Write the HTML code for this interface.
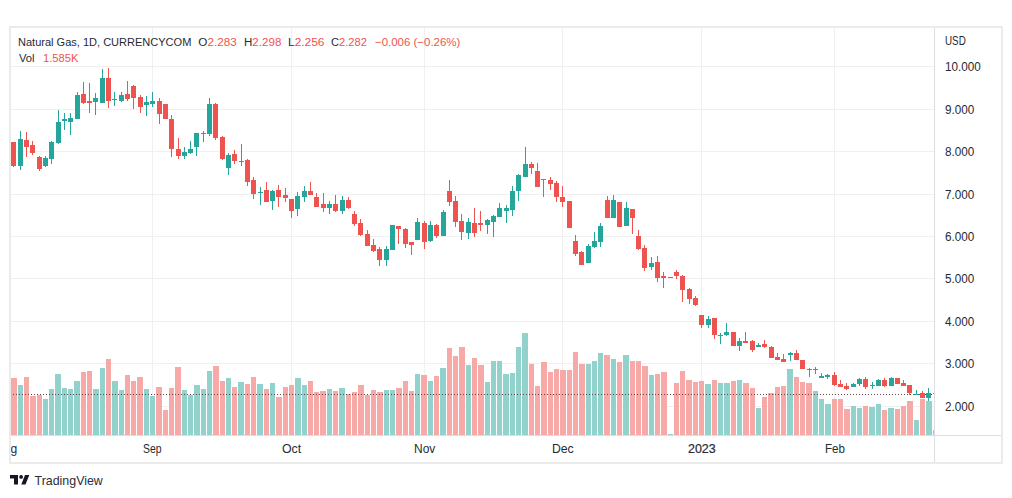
<!DOCTYPE html>
<html><head><meta charset="utf-8"><style>
html,body{margin:0;padding:0;background:#fff;}
body{width:1012px;height:498px;overflow:hidden;position:relative;font-family:"Liberation Sans",sans-serif;color:#262a33;}
.t{position:absolute;white-space:nowrap;line-height:1;transform-origin:0 0;}
svg{position:absolute;left:0;top:0;}
</style></head><body>
<svg width="1012" height="498" viewBox="0 0 1012 498" shape-rendering="crispEdges">
<rect x="9" y="26" width="994" height="438" fill="#ebebeb"/>
<rect x="11" y="28" width="990" height="434" fill="#ffffff"/>
<defs><clipPath id="pc"><rect x="11" y="28" width="923" height="407"/></clipPath></defs>
<g clip-path="url(#pc)">
<rect x="152" y="28" width="1" height="407" fill="#f0f0f3"/>
<rect x="291" y="28" width="1" height="407" fill="#f0f0f3"/>
<rect x="424" y="28" width="1" height="407" fill="#f0f0f3"/>
<rect x="562" y="28" width="1" height="407" fill="#f0f0f3"/>
<rect x="701" y="28" width="1" height="407" fill="#f0f0f3"/>
<rect x="834" y="28" width="1" height="407" fill="#f0f0f3"/>
<rect x="11" y="66" width="923" height="1" fill="#f0f0f3"/>
<rect x="11" y="109" width="923" height="1" fill="#f0f0f3"/>
<rect x="11" y="151" width="923" height="1" fill="#f0f0f3"/>
<rect x="11" y="194" width="923" height="1" fill="#f0f0f3"/>
<rect x="11" y="236" width="923" height="1" fill="#f0f0f3"/>
<rect x="11" y="278" width="923" height="1" fill="#f0f0f3"/>
<rect x="11" y="321" width="923" height="1" fill="#f0f0f3"/>
<rect x="11" y="363" width="923" height="1" fill="#f0f0f3"/>
<rect x="11" y="406" width="923" height="1" fill="#f0f0f3"/>
<rect x="11" y="378" width="6" height="57" fill="#f7a9a7"/>
<rect x="18" y="385" width="5" height="50" fill="#92d2cc"/>
<rect x="24" y="377" width="5" height="58" fill="#f7a9a7"/>
<rect x="30" y="396" width="6" height="39" fill="#f7a9a7"/>
<rect x="37" y="395" width="5" height="40" fill="#f7a9a7"/>
<rect x="43" y="399" width="5" height="36" fill="#92d2cc"/>
<rect x="49" y="389" width="5" height="46" fill="#92d2cc"/>
<rect x="55" y="374" width="6" height="61" fill="#92d2cc"/>
<rect x="62" y="388" width="5" height="47" fill="#92d2cc"/>
<rect x="68" y="389" width="5" height="46" fill="#92d2cc"/>
<rect x="74" y="381" width="6" height="54" fill="#92d2cc"/>
<rect x="81" y="372" width="5" height="63" fill="#f7a9a7"/>
<rect x="87" y="371" width="5" height="64" fill="#f7a9a7"/>
<rect x="93" y="389" width="6" height="46" fill="#92d2cc"/>
<rect x="100" y="368" width="5" height="67" fill="#92d2cc"/>
<rect x="106" y="359" width="5" height="76" fill="#f7a9a7"/>
<rect x="112" y="381" width="6" height="54" fill="#92d2cc"/>
<rect x="119" y="390" width="5" height="45" fill="#92d2cc"/>
<rect x="125" y="375" width="5" height="60" fill="#f7a9a7"/>
<rect x="131" y="381" width="5" height="54" fill="#f7a9a7"/>
<rect x="137" y="377" width="6" height="58" fill="#f7a9a7"/>
<rect x="144" y="389" width="5" height="46" fill="#92d2cc"/>
<rect x="150" y="396" width="5" height="39" fill="#92d2cc"/>
<rect x="156" y="387" width="6" height="48" fill="#f7a9a7"/>
<rect x="163" y="410" width="5" height="25" fill="#f7a9a7"/>
<rect x="169" y="388" width="5" height="47" fill="#f7a9a7"/>
<rect x="175" y="367" width="6" height="68" fill="#f7a9a7"/>
<rect x="182" y="390" width="5" height="45" fill="#92d2cc"/>
<rect x="188" y="395" width="5" height="40" fill="#92d2cc"/>
<rect x="194" y="385" width="6" height="50" fill="#92d2cc"/>
<rect x="201" y="389" width="5" height="46" fill="#92d2cc"/>
<rect x="207" y="371" width="5" height="64" fill="#92d2cc"/>
<rect x="213" y="366" width="6" height="69" fill="#f7a9a7"/>
<rect x="220" y="381" width="5" height="54" fill="#f7a9a7"/>
<rect x="226" y="378" width="5" height="57" fill="#92d2cc"/>
<rect x="232" y="387" width="5" height="48" fill="#f7a9a7"/>
<rect x="238" y="382" width="6" height="53" fill="#92d2cc"/>
<rect x="245" y="384" width="5" height="51" fill="#f7a9a7"/>
<rect x="251" y="377" width="5" height="58" fill="#f7a9a7"/>
<rect x="257" y="384" width="6" height="51" fill="#92d2cc"/>
<rect x="264" y="389" width="5" height="46" fill="#f7a9a7"/>
<rect x="270" y="383" width="5" height="52" fill="#92d2cc"/>
<rect x="276" y="397" width="6" height="38" fill="#f7a9a7"/>
<rect x="283" y="387" width="5" height="48" fill="#f7a9a7"/>
<rect x="289" y="385" width="5" height="50" fill="#f7a9a7"/>
<rect x="295" y="378" width="6" height="57" fill="#92d2cc"/>
<rect x="302" y="385" width="5" height="50" fill="#92d2cc"/>
<rect x="308" y="381" width="5" height="54" fill="#f7a9a7"/>
<rect x="314" y="392" width="5" height="43" fill="#f7a9a7"/>
<rect x="320" y="391" width="6" height="44" fill="#f7a9a7"/>
<rect x="327" y="389" width="5" height="46" fill="#92d2cc"/>
<rect x="333" y="391" width="5" height="44" fill="#f7a9a7"/>
<rect x="339" y="388" width="6" height="47" fill="#92d2cc"/>
<rect x="346" y="394" width="5" height="41" fill="#f7a9a7"/>
<rect x="352" y="392" width="5" height="43" fill="#f7a9a7"/>
<rect x="358" y="385" width="6" height="50" fill="#f7a9a7"/>
<rect x="365" y="395" width="5" height="40" fill="#f7a9a7"/>
<rect x="371" y="390" width="5" height="45" fill="#f7a9a7"/>
<rect x="377" y="392" width="6" height="43" fill="#f7a9a7"/>
<rect x="384" y="390" width="5" height="45" fill="#92d2cc"/>
<rect x="390" y="390" width="5" height="45" fill="#92d2cc"/>
<rect x="396" y="388" width="6" height="47" fill="#f7a9a7"/>
<rect x="403" y="381" width="5" height="54" fill="#f7a9a7"/>
<rect x="409" y="391" width="5" height="44" fill="#f7a9a7"/>
<rect x="415" y="374" width="5" height="61" fill="#92d2cc"/>
<rect x="421" y="375" width="6" height="60" fill="#f7a9a7"/>
<rect x="428" y="381" width="5" height="54" fill="#92d2cc"/>
<rect x="434" y="376" width="5" height="59" fill="#f7a9a7"/>
<rect x="440" y="368" width="6" height="67" fill="#92d2cc"/>
<rect x="447" y="348" width="5" height="87" fill="#f7a9a7"/>
<rect x="453" y="356" width="5" height="79" fill="#f7a9a7"/>
<rect x="459" y="347" width="6" height="88" fill="#f7a9a7"/>
<rect x="466" y="365" width="5" height="70" fill="#92d2cc"/>
<rect x="472" y="358" width="5" height="77" fill="#f7a9a7"/>
<rect x="478" y="365" width="6" height="70" fill="#f7a9a7"/>
<rect x="485" y="382" width="5" height="53" fill="#92d2cc"/>
<rect x="491" y="361" width="5" height="74" fill="#92d2cc"/>
<rect x="497" y="361" width="5" height="74" fill="#92d2cc"/>
<rect x="503" y="374" width="6" height="61" fill="#92d2cc"/>
<rect x="510" y="373" width="5" height="62" fill="#92d2cc"/>
<rect x="516" y="347" width="5" height="88" fill="#92d2cc"/>
<rect x="522" y="333" width="6" height="102" fill="#92d2cc"/>
<rect x="529" y="364" width="5" height="71" fill="#f7a9a7"/>
<rect x="535" y="386" width="5" height="49" fill="#f7a9a7"/>
<rect x="541" y="362" width="6" height="73" fill="#f7a9a7"/>
<rect x="548" y="372" width="5" height="63" fill="#f7a9a7"/>
<rect x="554" y="369" width="5" height="66" fill="#f7a9a7"/>
<rect x="560" y="370" width="6" height="65" fill="#f7a9a7"/>
<rect x="567" y="370" width="5" height="65" fill="#f7a9a7"/>
<rect x="573" y="352" width="5" height="83" fill="#f7a9a7"/>
<rect x="579" y="364" width="6" height="71" fill="#f7a9a7"/>
<rect x="586" y="364" width="5" height="71" fill="#92d2cc"/>
<rect x="592" y="361" width="5" height="74" fill="#92d2cc"/>
<rect x="598" y="353" width="5" height="82" fill="#92d2cc"/>
<rect x="604" y="355" width="6" height="80" fill="#f7a9a7"/>
<rect x="611" y="359" width="5" height="76" fill="#92d2cc"/>
<rect x="617" y="362" width="5" height="73" fill="#f7a9a7"/>
<rect x="623" y="355" width="6" height="80" fill="#92d2cc"/>
<rect x="630" y="361" width="5" height="74" fill="#f7a9a7"/>
<rect x="636" y="361" width="5" height="74" fill="#f7a9a7"/>
<rect x="642" y="366" width="6" height="69" fill="#f7a9a7"/>
<rect x="649" y="375" width="5" height="60" fill="#92d2cc"/>
<rect x="655" y="374" width="5" height="61" fill="#f7a9a7"/>
<rect x="661" y="372" width="6" height="63" fill="#f7a9a7"/>
<rect x="668" y="434" width="5" height="1" fill="#92d2cc"/>
<rect x="674" y="383" width="5" height="52" fill="#f7a9a7"/>
<rect x="680" y="371" width="5" height="64" fill="#f7a9a7"/>
<rect x="686" y="380" width="6" height="55" fill="#f7a9a7"/>
<rect x="693" y="382" width="5" height="53" fill="#f7a9a7"/>
<rect x="699" y="381" width="5" height="54" fill="#f7a9a7"/>
<rect x="705" y="384" width="6" height="51" fill="#92d2cc"/>
<rect x="712" y="380" width="5" height="55" fill="#f7a9a7"/>
<rect x="718" y="383" width="5" height="52" fill="#92d2cc"/>
<rect x="724" y="383" width="6" height="52" fill="#92d2cc"/>
<rect x="731" y="381" width="5" height="54" fill="#f7a9a7"/>
<rect x="737" y="380" width="5" height="55" fill="#92d2cc"/>
<rect x="743" y="383" width="6" height="52" fill="#f7a9a7"/>
<rect x="750" y="388" width="5" height="47" fill="#f7a9a7"/>
<rect x="756" y="408" width="5" height="27" fill="#92d2cc"/>
<rect x="762" y="397" width="5" height="38" fill="#f7a9a7"/>
<rect x="768" y="393" width="6" height="42" fill="#f7a9a7"/>
<rect x="775" y="387" width="5" height="48" fill="#f7a9a7"/>
<rect x="781" y="386" width="5" height="49" fill="#f7a9a7"/>
<rect x="787" y="369" width="6" height="66" fill="#92d2cc"/>
<rect x="794" y="377" width="5" height="58" fill="#f7a9a7"/>
<rect x="800" y="382" width="5" height="53" fill="#f7a9a7"/>
<rect x="806" y="383" width="6" height="52" fill="#f7a9a7"/>
<rect x="813" y="391" width="5" height="44" fill="#92d2cc"/>
<rect x="819" y="399" width="5" height="36" fill="#92d2cc"/>
<rect x="825" y="404" width="6" height="31" fill="#92d2cc"/>
<rect x="832" y="399" width="5" height="36" fill="#f7a9a7"/>
<rect x="838" y="399" width="5" height="36" fill="#f7a9a7"/>
<rect x="844" y="409" width="6" height="26" fill="#f7a9a7"/>
<rect x="851" y="406" width="5" height="29" fill="#92d2cc"/>
<rect x="857" y="408" width="5" height="27" fill="#92d2cc"/>
<rect x="863" y="406" width="5" height="29" fill="#f7a9a7"/>
<rect x="869" y="407" width="6" height="28" fill="#92d2cc"/>
<rect x="876" y="404" width="5" height="31" fill="#92d2cc"/>
<rect x="882" y="410" width="5" height="25" fill="#f7a9a7"/>
<rect x="888" y="408" width="6" height="27" fill="#92d2cc"/>
<rect x="895" y="409" width="5" height="26" fill="#f7a9a7"/>
<rect x="901" y="406" width="5" height="29" fill="#f7a9a7"/>
<rect x="907" y="401" width="6" height="34" fill="#f7a9a7"/>
<rect x="914" y="420" width="5" height="15" fill="#92d2cc"/>
<rect x="920" y="399" width="5" height="36" fill="#f7a9a7"/>
<rect x="926" y="401" width="6" height="34" fill="#92d2cc"/>
<rect x="933" y="430" width="5" height="5" fill="#f7a9a7"/>
<line x1="11" y1="394.5" x2="934" y2="394.5" stroke="#6e4244" stroke-width="1" stroke-dasharray="1 2" stroke-dashoffset="-2"/>
<rect x="13" y="142" width="1" height="25" fill="#ef5350"/>
<rect x="11" y="142" width="5" height="24" fill="#ef5350"/>
<rect x="20" y="131" width="1" height="39" fill="#26a69a"/>
<rect x="18" y="139" width="5" height="27" fill="#26a69a"/>
<rect x="26" y="132" width="1" height="25" fill="#ef5350"/>
<rect x="24" y="140" width="5" height="7" fill="#ef5350"/>
<rect x="32" y="141" width="1" height="14" fill="#ef5350"/>
<rect x="30" y="145" width="5" height="8" fill="#ef5350"/>
<rect x="39" y="156" width="1" height="15" fill="#ef5350"/>
<rect x="37" y="157" width="5" height="12" fill="#ef5350"/>
<rect x="45" y="156" width="1" height="11" fill="#26a69a"/>
<rect x="43" y="158" width="5" height="8" fill="#26a69a"/>
<rect x="51" y="141" width="1" height="23" fill="#26a69a"/>
<rect x="49" y="142" width="5" height="17" fill="#26a69a"/>
<rect x="58" y="110" width="1" height="34" fill="#26a69a"/>
<rect x="56" y="122" width="5" height="21" fill="#26a69a"/>
<rect x="64" y="113" width="1" height="17" fill="#26a69a"/>
<rect x="62" y="119" width="5" height="2" fill="#26a69a"/>
<rect x="70" y="113" width="1" height="22" fill="#26a69a"/>
<rect x="68" y="118" width="5" height="4" fill="#26a69a"/>
<rect x="77" y="92" width="1" height="27" fill="#26a69a"/>
<rect x="75" y="95" width="5" height="24" fill="#26a69a"/>
<rect x="83" y="82" width="1" height="22" fill="#ef5350"/>
<rect x="81" y="94" width="5" height="9" fill="#ef5350"/>
<rect x="89" y="83" width="1" height="30" fill="#ef5350"/>
<rect x="87" y="101" width="5" height="2" fill="#ef5350"/>
<rect x="95" y="93" width="1" height="22" fill="#26a69a"/>
<rect x="93" y="98" width="5" height="4" fill="#26a69a"/>
<rect x="102" y="69" width="1" height="34" fill="#26a69a"/>
<rect x="100" y="78" width="5" height="25" fill="#26a69a"/>
<rect x="108" y="68" width="1" height="40" fill="#ef5350"/>
<rect x="106" y="78" width="5" height="23" fill="#ef5350"/>
<rect x="114" y="92" width="1" height="14" fill="#26a69a"/>
<rect x="112" y="99" width="5" height="1" fill="#26a69a"/>
<rect x="121" y="92" width="1" height="10" fill="#26a69a"/>
<rect x="119" y="95" width="5" height="6" fill="#26a69a"/>
<rect x="127" y="81" width="1" height="20" fill="#ef5350"/>
<rect x="125" y="94" width="5" height="5" fill="#ef5350"/>
<rect x="133" y="85" width="1" height="24" fill="#ef5350"/>
<rect x="131" y="86" width="5" height="12" fill="#ef5350"/>
<rect x="140" y="95" width="1" height="18" fill="#ef5350"/>
<rect x="138" y="97" width="5" height="10" fill="#ef5350"/>
<rect x="146" y="96" width="1" height="20" fill="#26a69a"/>
<rect x="144" y="102" width="5" height="3" fill="#26a69a"/>
<rect x="152" y="92" width="1" height="15" fill="#26a69a"/>
<rect x="150" y="101" width="5" height="3" fill="#26a69a"/>
<rect x="159" y="98" width="1" height="26" fill="#ef5350"/>
<rect x="157" y="101" width="5" height="13" fill="#ef5350"/>
<rect x="165" y="104" width="1" height="15" fill="#ef5350"/>
<rect x="163" y="104" width="5" height="15" fill="#ef5350"/>
<rect x="171" y="115" width="1" height="42" fill="#ef5350"/>
<rect x="169" y="119" width="5" height="30" fill="#ef5350"/>
<rect x="178" y="138" width="1" height="21" fill="#ef5350"/>
<rect x="176" y="149" width="5" height="7" fill="#ef5350"/>
<rect x="184" y="147" width="1" height="12" fill="#26a69a"/>
<rect x="182" y="152" width="5" height="4" fill="#26a69a"/>
<rect x="190" y="141" width="1" height="13" fill="#26a69a"/>
<rect x="188" y="149" width="5" height="4" fill="#26a69a"/>
<rect x="196" y="133" width="1" height="23" fill="#26a69a"/>
<rect x="194" y="133" width="5" height="14" fill="#26a69a"/>
<rect x="203" y="131" width="1" height="11" fill="#26a69a"/>
<rect x="201" y="133" width="5" height="1" fill="#26a69a"/>
<rect x="209" y="98" width="1" height="38" fill="#26a69a"/>
<rect x="207" y="104" width="5" height="30" fill="#26a69a"/>
<rect x="215" y="103" width="1" height="37" fill="#ef5350"/>
<rect x="213" y="104" width="5" height="34" fill="#ef5350"/>
<rect x="222" y="136" width="1" height="24" fill="#ef5350"/>
<rect x="220" y="137" width="5" height="22" fill="#ef5350"/>
<rect x="228" y="153" width="1" height="22" fill="#26a69a"/>
<rect x="226" y="155" width="5" height="13" fill="#26a69a"/>
<rect x="234" y="150" width="1" height="14" fill="#ef5350"/>
<rect x="232" y="154" width="5" height="7" fill="#ef5350"/>
<rect x="241" y="144" width="1" height="22" fill="#26a69a"/>
<rect x="239" y="161" width="5" height="1" fill="#26a69a"/>
<rect x="247" y="159" width="1" height="27" fill="#ef5350"/>
<rect x="245" y="160" width="5" height="22" fill="#ef5350"/>
<rect x="253" y="177" width="1" height="22" fill="#ef5350"/>
<rect x="251" y="180" width="5" height="14" fill="#ef5350"/>
<rect x="260" y="187" width="1" height="18" fill="#26a69a"/>
<rect x="258" y="192" width="5" height="1" fill="#26a69a"/>
<rect x="266" y="182" width="1" height="20" fill="#ef5350"/>
<rect x="264" y="190" width="5" height="12" fill="#ef5350"/>
<rect x="272" y="190" width="1" height="20" fill="#26a69a"/>
<rect x="270" y="191" width="5" height="10" fill="#26a69a"/>
<rect x="278" y="185" width="1" height="22" fill="#ef5350"/>
<rect x="276" y="190" width="5" height="7" fill="#ef5350"/>
<rect x="285" y="188" width="1" height="14" fill="#ef5350"/>
<rect x="283" y="195" width="5" height="3" fill="#ef5350"/>
<rect x="291" y="199" width="1" height="19" fill="#ef5350"/>
<rect x="289" y="199" width="5" height="12" fill="#ef5350"/>
<rect x="297" y="192" width="1" height="24" fill="#26a69a"/>
<rect x="295" y="196" width="5" height="13" fill="#26a69a"/>
<rect x="304" y="186" width="1" height="16" fill="#26a69a"/>
<rect x="302" y="191" width="5" height="6" fill="#26a69a"/>
<rect x="310" y="182" width="1" height="13" fill="#ef5350"/>
<rect x="308" y="191" width="5" height="4" fill="#ef5350"/>
<rect x="316" y="193" width="1" height="14" fill="#ef5350"/>
<rect x="314" y="197" width="5" height="10" fill="#ef5350"/>
<rect x="323" y="193" width="1" height="19" fill="#ef5350"/>
<rect x="321" y="204" width="5" height="4" fill="#ef5350"/>
<rect x="329" y="201" width="1" height="13" fill="#26a69a"/>
<rect x="327" y="204" width="5" height="4" fill="#26a69a"/>
<rect x="335" y="195" width="1" height="17" fill="#ef5350"/>
<rect x="333" y="204" width="5" height="7" fill="#ef5350"/>
<rect x="342" y="196" width="1" height="18" fill="#26a69a"/>
<rect x="340" y="200" width="5" height="11" fill="#26a69a"/>
<rect x="348" y="197" width="1" height="12" fill="#ef5350"/>
<rect x="346" y="200" width="5" height="8" fill="#ef5350"/>
<rect x="354" y="211" width="1" height="15" fill="#ef5350"/>
<rect x="352" y="214" width="5" height="10" fill="#ef5350"/>
<rect x="360" y="219" width="1" height="17" fill="#ef5350"/>
<rect x="358" y="223" width="5" height="12" fill="#ef5350"/>
<rect x="367" y="230" width="1" height="16" fill="#ef5350"/>
<rect x="365" y="234" width="5" height="12" fill="#ef5350"/>
<rect x="373" y="239" width="1" height="13" fill="#ef5350"/>
<rect x="371" y="245" width="5" height="6" fill="#ef5350"/>
<rect x="379" y="247" width="1" height="19" fill="#ef5350"/>
<rect x="377" y="249" width="5" height="11" fill="#ef5350"/>
<rect x="386" y="246" width="1" height="20" fill="#26a69a"/>
<rect x="384" y="249" width="5" height="11" fill="#26a69a"/>
<rect x="392" y="225" width="1" height="25" fill="#26a69a"/>
<rect x="390" y="225" width="5" height="25" fill="#26a69a"/>
<rect x="398" y="226" width="1" height="18" fill="#ef5350"/>
<rect x="396" y="226" width="5" height="3" fill="#ef5350"/>
<rect x="405" y="228" width="1" height="20" fill="#ef5350"/>
<rect x="403" y="229" width="5" height="15" fill="#ef5350"/>
<rect x="411" y="242" width="1" height="13" fill="#ef5350"/>
<rect x="409" y="242" width="5" height="3" fill="#ef5350"/>
<rect x="417" y="218" width="1" height="22" fill="#26a69a"/>
<rect x="415" y="222" width="5" height="18" fill="#26a69a"/>
<rect x="424" y="221" width="1" height="28" fill="#ef5350"/>
<rect x="422" y="223" width="5" height="19" fill="#ef5350"/>
<rect x="430" y="221" width="1" height="21" fill="#26a69a"/>
<rect x="428" y="225" width="5" height="16" fill="#26a69a"/>
<rect x="436" y="224" width="1" height="14" fill="#ef5350"/>
<rect x="434" y="225" width="5" height="11" fill="#ef5350"/>
<rect x="443" y="210" width="1" height="26" fill="#26a69a"/>
<rect x="441" y="212" width="5" height="24" fill="#26a69a"/>
<rect x="449" y="180" width="1" height="26" fill="#ef5350"/>
<rect x="447" y="191" width="5" height="11" fill="#ef5350"/>
<rect x="455" y="196" width="1" height="31" fill="#ef5350"/>
<rect x="453" y="201" width="5" height="21" fill="#ef5350"/>
<rect x="461" y="214" width="1" height="26" fill="#ef5350"/>
<rect x="459" y="221" width="5" height="11" fill="#ef5350"/>
<rect x="468" y="218" width="1" height="21" fill="#26a69a"/>
<rect x="466" y="222" width="5" height="11" fill="#26a69a"/>
<rect x="474" y="208" width="1" height="29" fill="#ef5350"/>
<rect x="472" y="223" width="5" height="10" fill="#ef5350"/>
<rect x="480" y="211" width="1" height="20" fill="#ef5350"/>
<rect x="478" y="223" width="5" height="2" fill="#ef5350"/>
<rect x="487" y="219" width="1" height="15" fill="#26a69a"/>
<rect x="485" y="220" width="5" height="5" fill="#26a69a"/>
<rect x="493" y="215" width="1" height="22" fill="#26a69a"/>
<rect x="491" y="216" width="5" height="6" fill="#26a69a"/>
<rect x="499" y="203" width="1" height="14" fill="#26a69a"/>
<rect x="497" y="208" width="5" height="9" fill="#26a69a"/>
<rect x="506" y="205" width="1" height="18" fill="#26a69a"/>
<rect x="504" y="208" width="5" height="3" fill="#26a69a"/>
<rect x="512" y="186" width="1" height="30" fill="#26a69a"/>
<rect x="510" y="191" width="5" height="19" fill="#26a69a"/>
<rect x="518" y="174" width="1" height="27" fill="#26a69a"/>
<rect x="516" y="175" width="5" height="16" fill="#26a69a"/>
<rect x="525" y="147" width="1" height="30" fill="#26a69a"/>
<rect x="523" y="164" width="5" height="13" fill="#26a69a"/>
<rect x="531" y="162" width="1" height="12" fill="#ef5350"/>
<rect x="529" y="164" width="5" height="4" fill="#ef5350"/>
<rect x="537" y="163" width="1" height="24" fill="#ef5350"/>
<rect x="535" y="171" width="5" height="16" fill="#ef5350"/>
<rect x="543" y="179" width="1" height="18" fill="#ef5350"/>
<rect x="541" y="179" width="5" height="1" fill="#ef5350"/>
<rect x="550" y="177" width="1" height="13" fill="#ef5350"/>
<rect x="548" y="180" width="5" height="4" fill="#ef5350"/>
<rect x="556" y="181" width="1" height="21" fill="#ef5350"/>
<rect x="554" y="183" width="5" height="14" fill="#ef5350"/>
<rect x="562" y="186" width="1" height="21" fill="#ef5350"/>
<rect x="560" y="197" width="5" height="5" fill="#ef5350"/>
<rect x="569" y="201" width="1" height="27" fill="#ef5350"/>
<rect x="567" y="201" width="5" height="27" fill="#ef5350"/>
<rect x="575" y="235" width="1" height="21" fill="#ef5350"/>
<rect x="573" y="241" width="5" height="13" fill="#ef5350"/>
<rect x="581" y="251" width="1" height="14" fill="#ef5350"/>
<rect x="579" y="252" width="5" height="13" fill="#ef5350"/>
<rect x="588" y="244" width="1" height="19" fill="#26a69a"/>
<rect x="586" y="246" width="5" height="17" fill="#26a69a"/>
<rect x="594" y="232" width="1" height="16" fill="#26a69a"/>
<rect x="592" y="241" width="5" height="6" fill="#26a69a"/>
<rect x="600" y="223" width="1" height="24" fill="#26a69a"/>
<rect x="598" y="226" width="5" height="16" fill="#26a69a"/>
<rect x="607" y="196" width="1" height="22" fill="#ef5350"/>
<rect x="605" y="200" width="5" height="18" fill="#ef5350"/>
<rect x="613" y="195" width="1" height="23" fill="#26a69a"/>
<rect x="611" y="200" width="5" height="18" fill="#26a69a"/>
<rect x="619" y="202" width="1" height="25" fill="#ef5350"/>
<rect x="617" y="202" width="5" height="25" fill="#ef5350"/>
<rect x="626" y="202" width="1" height="24" fill="#26a69a"/>
<rect x="624" y="208" width="5" height="18" fill="#26a69a"/>
<rect x="632" y="209" width="1" height="25" fill="#ef5350"/>
<rect x="630" y="209" width="5" height="9" fill="#ef5350"/>
<rect x="638" y="230" width="1" height="20" fill="#ef5350"/>
<rect x="636" y="236" width="5" height="13" fill="#ef5350"/>
<rect x="644" y="245" width="1" height="26" fill="#ef5350"/>
<rect x="642" y="248" width="5" height="20" fill="#ef5350"/>
<rect x="651" y="257" width="1" height="13" fill="#26a69a"/>
<rect x="649" y="263" width="5" height="4" fill="#26a69a"/>
<rect x="657" y="256" width="1" height="26" fill="#ef5350"/>
<rect x="655" y="262" width="5" height="16" fill="#ef5350"/>
<rect x="663" y="272" width="1" height="16" fill="#ef5350"/>
<rect x="661" y="276" width="5" height="2" fill="#ef5350"/>
<rect x="670" y="277" width="1" height="1" fill="#26a69a"/>
<rect x="668" y="277" width="5" height="1" fill="#26a69a"/>
<rect x="676" y="270" width="1" height="9" fill="#ef5350"/>
<rect x="674" y="272" width="5" height="4" fill="#ef5350"/>
<rect x="682" y="275" width="1" height="27" fill="#ef5350"/>
<rect x="680" y="276" width="5" height="14" fill="#ef5350"/>
<rect x="689" y="288" width="1" height="16" fill="#ef5350"/>
<rect x="687" y="289" width="5" height="10" fill="#ef5350"/>
<rect x="695" y="296" width="1" height="10" fill="#ef5350"/>
<rect x="693" y="298" width="5" height="7" fill="#ef5350"/>
<rect x="701" y="315" width="1" height="13" fill="#ef5350"/>
<rect x="699" y="315" width="5" height="10" fill="#ef5350"/>
<rect x="708" y="316" width="1" height="12" fill="#26a69a"/>
<rect x="706" y="319" width="5" height="6" fill="#26a69a"/>
<rect x="714" y="318" width="1" height="21" fill="#ef5350"/>
<rect x="712" y="318" width="5" height="17" fill="#ef5350"/>
<rect x="720" y="333" width="1" height="11" fill="#26a69a"/>
<rect x="718" y="335" width="5" height="1" fill="#26a69a"/>
<rect x="726" y="323" width="1" height="13" fill="#26a69a"/>
<rect x="724" y="332" width="5" height="3" fill="#26a69a"/>
<rect x="733" y="332" width="1" height="14" fill="#ef5350"/>
<rect x="731" y="332" width="5" height="14" fill="#ef5350"/>
<rect x="739" y="338" width="1" height="13" fill="#26a69a"/>
<rect x="737" y="341" width="5" height="5" fill="#26a69a"/>
<rect x="745" y="332" width="1" height="11" fill="#ef5350"/>
<rect x="743" y="341" width="5" height="2" fill="#ef5350"/>
<rect x="752" y="340" width="1" height="12" fill="#ef5350"/>
<rect x="750" y="341" width="5" height="9" fill="#ef5350"/>
<rect x="758" y="343" width="1" height="4" fill="#26a69a"/>
<rect x="756" y="345" width="5" height="2" fill="#26a69a"/>
<rect x="764" y="340" width="1" height="8" fill="#ef5350"/>
<rect x="762" y="344" width="5" height="3" fill="#ef5350"/>
<rect x="771" y="346" width="1" height="12" fill="#ef5350"/>
<rect x="769" y="347" width="5" height="11" fill="#ef5350"/>
<rect x="777" y="353" width="1" height="7" fill="#ef5350"/>
<rect x="775" y="357" width="5" height="3" fill="#ef5350"/>
<rect x="783" y="354" width="1" height="8" fill="#ef5350"/>
<rect x="781" y="359" width="5" height="3" fill="#ef5350"/>
<rect x="790" y="352" width="1" height="9" fill="#26a69a"/>
<rect x="788" y="353" width="5" height="2" fill="#26a69a"/>
<rect x="796" y="350" width="1" height="10" fill="#ef5350"/>
<rect x="794" y="353" width="5" height="7" fill="#ef5350"/>
<rect x="802" y="360" width="1" height="9" fill="#ef5350"/>
<rect x="800" y="360" width="5" height="9" fill="#ef5350"/>
<rect x="809" y="368" width="1" height="9" fill="#ef5350"/>
<rect x="807" y="369" width="5" height="1" fill="#ef5350"/>
<rect x="815" y="367" width="1" height="7" fill="#26a69a"/>
<rect x="813" y="369" width="5" height="1" fill="#26a69a"/>
<rect x="821" y="373" width="1" height="5" fill="#26a69a"/>
<rect x="819" y="376" width="5" height="2" fill="#26a69a"/>
<rect x="827" y="374" width="1" height="5" fill="#26a69a"/>
<rect x="825" y="375" width="5" height="2" fill="#26a69a"/>
<rect x="834" y="372" width="1" height="14" fill="#ef5350"/>
<rect x="832" y="375" width="5" height="10" fill="#ef5350"/>
<rect x="840" y="380" width="1" height="7" fill="#ef5350"/>
<rect x="838" y="384" width="5" height="3" fill="#ef5350"/>
<rect x="846" y="383" width="1" height="7" fill="#ef5350"/>
<rect x="844" y="386" width="5" height="3" fill="#ef5350"/>
<rect x="853" y="383" width="1" height="4" fill="#26a69a"/>
<rect x="851" y="384" width="5" height="3" fill="#26a69a"/>
<rect x="859" y="378" width="1" height="8" fill="#26a69a"/>
<rect x="857" y="379" width="5" height="5" fill="#26a69a"/>
<rect x="865" y="377" width="1" height="12" fill="#ef5350"/>
<rect x="863" y="379" width="5" height="8" fill="#ef5350"/>
<rect x="872" y="382" width="1" height="7" fill="#26a69a"/>
<rect x="870" y="385" width="5" height="1" fill="#26a69a"/>
<rect x="878" y="379" width="1" height="7" fill="#26a69a"/>
<rect x="876" y="380" width="5" height="6" fill="#26a69a"/>
<rect x="884" y="378" width="1" height="9" fill="#ef5350"/>
<rect x="882" y="380" width="5" height="6" fill="#ef5350"/>
<rect x="891" y="377" width="1" height="9" fill="#26a69a"/>
<rect x="889" y="378" width="5" height="8" fill="#26a69a"/>
<rect x="897" y="378" width="1" height="6" fill="#ef5350"/>
<rect x="895" y="378" width="5" height="6" fill="#ef5350"/>
<rect x="903" y="380" width="1" height="6" fill="#ef5350"/>
<rect x="901" y="383" width="5" height="3" fill="#ef5350"/>
<rect x="909" y="385" width="1" height="10" fill="#ef5350"/>
<rect x="907" y="385" width="5" height="8" fill="#ef5350"/>
<rect x="916" y="390" width="1" height="5" fill="#26a69a"/>
<rect x="914" y="394" width="5" height="1" fill="#26a69a"/>
<rect x="922" y="391" width="1" height="7" fill="#ef5350"/>
<rect x="920" y="393" width="5" height="5" fill="#ef5350"/>
<rect x="928" y="388" width="1" height="13" fill="#26a69a"/>
<rect x="926" y="393" width="5" height="5" fill="#26a69a"/>
<rect x="935" y="392" width="1" height="3" fill="#ef5350"/>
<rect x="933" y="393" width="5" height="1" fill="#ef5350"/>
</g>
<rect x="934" y="28" width="1" height="434" fill="#dcdee3"/>
<rect x="11" y="435" width="990" height="1" fill="#dcdee3"/>
<path d="M10 475 H18 V484.5 H14 V478.6 H10 Z" fill="#131722" shape-rendering="geometricPrecision"/>
<circle cx="21.1" cy="476.9" r="1.9" fill="#131722" shape-rendering="geometricPrecision"/>
<path d="M25 475 H29.3 L25.5 484.5 H21.3 Z" fill="#131722" shape-rendering="geometricPrecision"/>
</svg>
<div class="t" style="left:18.40px;top:35.64px;font-size:11.7px;color:#262a33;transform:scaleX(0.943);">Natural Gas, 1D, CURRENCYCOM</div>
<div class="t" style="left:198.30px;top:35.64px;font-size:11.7px;color:#262a33;transform:scaleX(1.0);">O<span style="color:#ef5350">2.283</span></div>
<div class="t" style="left:244.00px;top:35.64px;font-size:11.7px;color:#262a33;transform:scaleX(0.99);">H<span style="color:#ef5350">2.298</span></div>
<div class="t" style="left:288.20px;top:35.64px;font-size:11.7px;color:#262a33;transform:scaleX(1.02);">L<span style="color:#ef5350">2.256</span></div>
<div class="t" style="left:331.00px;top:35.64px;font-size:11.7px;color:#262a33;transform:scaleX(0.95);">C<span style="color:#ef5350">2.282</span></div>
<div class="t" style="left:375.40px;top:35.64px;font-size:11.7px;color:#ef5350;transform:scaleX(0.98);">&minus;0.006 (&minus;0.26%)</div>
<div class="t" style="left:18.70px;top:52.45px;font-size:11.7px;color:#262a33;transform:scaleX(0.96);">Vol</div>
<div class="t" style="left:42.70px;top:52.45px;font-size:11.7px;color:#ef5350;transform:scaleX(0.96);">1.585K</div>
<div class="t" style="left:944.50px;top:35.16px;font-size:12.3px;color:#262a33;transform:scaleX(0.8);">USD</div>
<div class="t" style="left:944.80px;top:60.86px;font-size:12.3px;color:#262a33;transform:scaleX(0.95);">10.000</div>
<div class="t" style="left:944.80px;top:103.86px;font-size:12.3px;color:#262a33;transform:scaleX(0.95);">9.000</div>
<div class="t" style="left:944.80px;top:145.85px;font-size:12.3px;color:#262a33;transform:scaleX(0.95);">8.000</div>
<div class="t" style="left:944.80px;top:188.85px;font-size:12.3px;color:#262a33;transform:scaleX(0.95);">7.000</div>
<div class="t" style="left:944.80px;top:230.85px;font-size:12.3px;color:#262a33;transform:scaleX(0.95);">6.000</div>
<div class="t" style="left:944.80px;top:272.85px;font-size:12.3px;color:#262a33;transform:scaleX(0.95);">5.000</div>
<div class="t" style="left:944.80px;top:315.85px;font-size:12.3px;color:#262a33;transform:scaleX(0.95);">4.000</div>
<div class="t" style="left:944.80px;top:357.85px;font-size:12.3px;color:#262a33;transform:scaleX(0.95);">3.000</div>
<div class="t" style="left:944.80px;top:400.85px;font-size:12.3px;color:#262a33;transform:scaleX(0.95);">2.000</div>
<div class="t" style="left:143.30px;top:442.99px;font-size:12.1px;color:#262a33;transform:scaleX(0.86);">Sep</div>
<div class="t" style="left:281.80px;top:442.99px;font-size:12.1px;color:#262a33;transform:scaleX(1.02);">Oct</div>
<div class="t" style="left:413.90px;top:442.99px;font-size:12.1px;color:#262a33;transform:scaleX(0.99);">Nov</div>
<div class="t" style="left:552.30px;top:442.99px;font-size:12.1px;color:#262a33;transform:scaleX(1.01);">Dec</div>
<div class="t" style="left:687.70px;top:442.99px;font-size:12.1px;-webkit-text-stroke:0.2px #262a33;color:#262a33;transform:scaleX(1.03);">2023</div>
<div class="t" style="left:824.60px;top:442.99px;font-size:12.1px;color:#262a33;transform:scaleX(0.96);">Feb</div>
<div style="position:absolute;left:11px;top:436px;width:40px;height:26px;overflow:hidden"><div class="t" style="left:-15.20px;top:6.99px;font-size:12.1px;color:#262a33;transform:scaleX(1.0);">Aug</div>
</div>
<div class="t" style="left:34.60px;top:474.54px;font-size:12.4px;color:#2a2e39;transform:scaleX(1.0);">TradingView</div>

</body></html>
